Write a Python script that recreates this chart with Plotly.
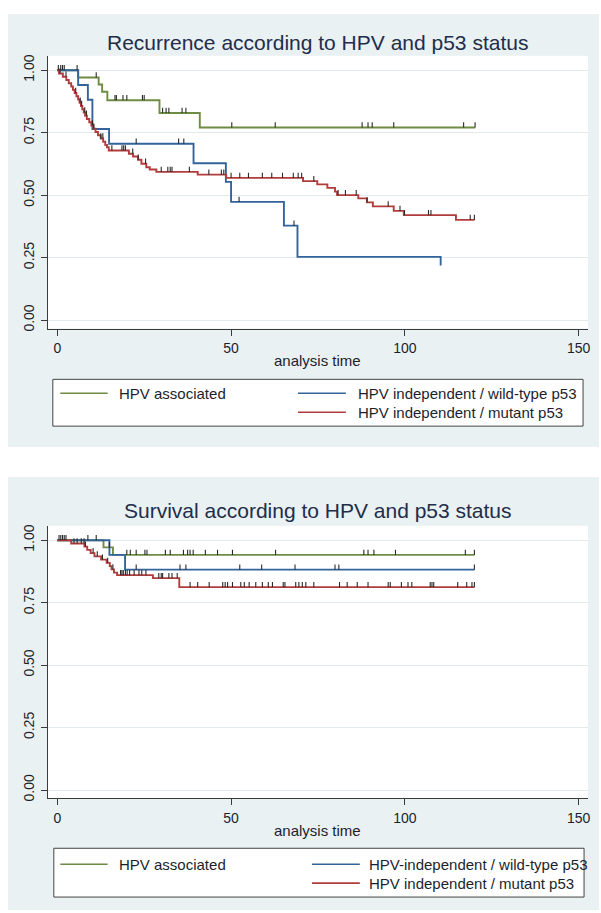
import numpy as np
import plotly.graph_objects as go

# ---------------- data ----------------
titles = ["Recurrence according to HPV and p53 status",
          "Survival according to HPV and p53 status"]
x_title = "analysis time"
x_ticks = [0, 50, 100, 150]
y_ticks = [0, 0.25, 0.5, 0.75, 1.0]
y_ticktext = ["0.00", "0.25", "0.50", "0.75", "1.00"]

legend_top = ["HPV associated", "HPV independent / wild-type p53", "HPV independent / mutant p53"]
legend_bot = ["HPV associated", "HPV-independent / wild-type p53", "HPV independent / mutant p53"]

# Recurrence (top)
rec_hpv_t = [0, 6.0, 11.9, 12.9, 14.4, 29.4, 41.0, 120.2]
rec_hpv_s = [1.0, 0.971, 0.943, 0.914, 0.880, 0.829, 0.771, 0.771]
rec_hpv_cens = [1.0, 2.0, 11.2, 16.6, 17.0, 18.9, 20.0, 24.5, 25.0, 30.3, 31.3, 32.1,
                35.9, 37.0, 50.2, 62.7, 87.7, 89.4, 90.6, 96.8, 116.9, 120.2]

rec_wt_t = [0, 6.0, 8.8, 10.1, 14.9, 39.2, 48.5, 50.0, 65.2, 69.1, 110.3]
rec_wt_s = [1.0, 0.941, 0.882, 0.765, 0.706, 0.628, 0.553, 0.473, 0.378, 0.253, 0.218]
rec_wt_cens = [1.5, 5.7, 22.7, 34.9, 36.4, 52.3, 68.1]

rec_mut_t = [0, 0.5, 1.6, 2.6, 3.3, 4.0, 4.5, 5.0, 5.5, 6.0, 6.4, 6.8, 7.2, 7.6, 8.0,
             8.5, 9.2, 9.8, 10.4, 11.0, 11.7, 12.5, 13.2, 13.8, 14.3, 14.8, 20.6, 21.8,
             23.2, 24.2, 25.6, 26.6, 28.5, 40.4, 48.6, 70.7, 74.8, 77.7, 79.9, 80.5,
             86.6, 89.1, 90.8, 96.8, 99.7, 114.7, 120.0]
rec_mut_s = [1.0, 0.987, 0.974, 0.961, 0.948, 0.935, 0.922, 0.909, 0.896, 0.883, 0.870,
             0.857, 0.844, 0.831, 0.818, 0.805, 0.792, 0.779, 0.766, 0.753, 0.740, 0.727,
             0.714, 0.701, 0.692, 0.679, 0.666, 0.655, 0.642, 0.626, 0.612, 0.603, 0.593,
             0.582, 0.569, 0.556, 0.543, 0.529, 0.514, 0.500, 0.487, 0.471, 0.455, 0.437,
             0.420, 0.401, 0.401]
rec_mut_cens = [0.3, 0.8, 2.5, 5.3, 6.6, 7.0, 7.9, 8.4, 10.1, 10.5, 12.5, 13.1, 15.7,
                18.6, 19.1, 19.6, 21.7, 23.3, 25.4, 29.9, 31.8, 32.5, 33.0, 38.0, 43.6,
                47.2, 47.9, 50.0, 52.5, 55.0, 59.0, 61.7, 64.8, 67.9, 69.3, 70.3, 73.8,
                80.8, 82.9, 86.0, 89.1, 95.2, 98.6, 99.9, 106.8, 107.5, 118.8, 120.0]

# Survival (bottom)
surv_hpv_t = [0, 13.3, 16.0, 120.0]
surv_hpv_s = [1.0, 0.971, 0.941, 0.941]
surv_hpv_cens = [1.0, 2.0, 15.0, 20.0, 21.0, 22.7, 25.2, 25.8, 31.1, 32.5, 36.3, 37.5,
                 38.2, 39.1, 42.6, 46.1, 50.4, 62.8, 88.2, 89.4, 91.1, 97.3, 117.4, 120.0]

surv_wt_t = [0, 15.0, 19.5, 120.0]
surv_wt_s = [1.0, 0.941, 0.882, 0.882]
surv_wt_cens = [8.8, 11.2, 22.7, 35.3, 37.0, 52.5, 58.8, 68.4, 79.9, 81.0, 120.0]

surv_mut_t = [0, 4.0, 7.8, 8.6, 9.6, 10.7, 12.6, 14.2, 15.1, 15.6, 16.3, 17.2, 27.5, 35.1, 120.0]
surv_mut_s = [1.0, 0.987, 0.974, 0.961, 0.948, 0.935, 0.922, 0.909, 0.896, 0.883, 0.870,
              0.860, 0.848, 0.812, 0.812]
surv_mut_cens = [0.5, 1.5, 2.5, 4.8, 5.7, 6.9, 7.7, 8.1, 10.3, 11.5, 13.0, 14.5, 16.0,
                 18.2, 18.6, 19.0, 19.6, 20.1, 20.8, 22.1, 23.5, 24.3, 25.5, 29.2, 29.9,
                 30.3, 32.1, 33.0, 34.5, 38.2, 40.4, 43.7, 47.6, 48.3, 49.0, 50.4, 52.8,
                 53.8, 55.2, 57.1, 59.0, 60.7, 61.9, 65.0, 65.5, 68.6, 69.5, 70.5, 71.5,
                 73.8, 81.2, 83.4, 86.3, 89.4, 95.2, 95.8, 99.0, 100.9, 102.0, 107.3,
                 107.8, 108.3, 115.2, 117.8, 119.3, 120.0]

# ---------------- style ----------------
W, H = 601, 913
FONT = "Liberation Sans, Arial, sans-serif"
COLORS = ["#6E8C43", "#32649B", "#B23C3C"]
PANEL = "#E9F1F3"
GRID = "#E1EAED"
AXIS = "#3a3a3a"
TEXT = "#1b1f2e"
TITLE_C = "#222d4a"
TICK_H = 0.021


def fx(px):
    return px / W


def fy(py):
    return 1 - py / H


def step_at(times, surv, c):
    t = np.asarray(times)
    s = np.asarray(surv)
    idx = np.searchsorted(t, np.asarray(c), side="right") - 1
    return s[np.clip(idx, 0, len(s) - 1)]


fig = go.Figure()

groups = [
    ("x", "y", [(rec_hpv_t, rec_hpv_s, rec_hpv_cens),
                (rec_wt_t, rec_wt_s, rec_wt_cens),
                (rec_mut_t, rec_mut_s, rec_mut_cens)]),
    ("x2", "y2", [(surv_hpv_t, surv_hpv_s, surv_hpv_cens),
                  (surv_wt_t, surv_wt_s, surv_wt_cens),
                  (surv_mut_t, surv_mut_s, surv_mut_cens)]),
]

for xa, ya, series in groups:
    for i, (t, s, c) in enumerate(series):
        fig.add_trace(go.Scatter(x=t, y=s, mode="lines", line=dict(color=COLORS[i], width=1.9, shape="hv"),
                                 xaxis=xa, yaxis=ya, showlegend=False, hoverinfo="skip"))
    for i, (t, s, c) in enumerate(series):
        cy = step_at(t, s, c)
        fig.add_trace(go.Scatter(x=c, y=cy, mode="markers",
                                 marker=dict(size=1, color="rgba(0,0,0,0)"),
                                 error_y=dict(type="data", symmetric=False,
                                              array=[TICK_H] * len(c), arrayminus=[0] * len(c),
                                              width=0, thickness=1.1, color="#2a2a2a"),
                                 xaxis=xa, yaxis=ya, showlegend=False, hoverinfo="skip"))

# geometry (pixels)
plot_x0, plot_x1 = 48, 590
plots_y = [(55, 329), (527, 801)]
panels_y = [(13, 448), (478, 913)]
title_y = [41.5, 512]
xtitle_y = [361.5, 833.5]
legend_boxes = [(53, 585, 380, 427), (54, 586, 851, 900)]
legend_rows = [(394, 413), (867, 886)]
legend_col2 = [(299, 347, 357), (313, 361, 368)]
legend_texts = [legend_top, legend_bot]

xr = [-2.72, 152.7]
yr = [-0.034, 1.058]

shapes = []
for (py0, py1) in panels_y:
    shapes.append(dict(type="rect", xref="paper", yref="paper", x0=fx(8), x1=1, y0=fy(py1), y1=fy(py0),
                       fillcolor=PANEL, line=dict(width=0), layer="below"))
for (py0, py1) in plots_y:
    shapes.append(dict(type="rect", xref="paper", yref="paper", x0=fx(plot_x0), x1=fx(plot_x1),
                       y0=fy(py1), y1=fy(py0), fillcolor="white", line=dict(width=0), layer="below"))

annotations = []
for k in range(2):
    annotations.append(dict(text=titles[k], x=fx((plot_x0 + plot_x1) / 2), y=fy(title_y[k]),
                            xref="paper", yref="paper", xanchor="center", yanchor="middle",
                            showarrow=False, font=dict(family=FONT, size=21, color=TITLE_C)))
    annotations.append(dict(text=x_title, x=fx((plot_x0 + plot_x1) / 2), y=fy(xtitle_y[k]),
                            xref="paper", yref="paper", xanchor="center", yanchor="middle",
                            showarrow=False, font=dict(family=FONT, size=15, color=TEXT)))
    bx0, bx1, by0, by1 = legend_boxes[k]
    shapes.append(dict(type="rect", xref="paper", yref="paper", x0=fx(bx0), x1=fx(bx1),
                       y0=fy(by1), y1=fy(by0), fillcolor="white",
                       line=dict(color="#444444", width=1), layer="below"))
    r1, r2 = legend_rows[k]
    c2a, c2b, c2t = legend_col2[k]
    items = [(60.5, 108, 117, r1), (c2a, c2b, c2t, r1), (c2a, c2b, c2t, r2)]
    for i, (la, lb, lt, ry) in enumerate(items):
        shapes.append(dict(type="line", xref="paper", yref="paper", x0=fx(la), x1=fx(lb),
                           y0=fy(ry), y1=fy(ry), line=dict(color=COLORS[i], width=1.6)))
        annotations.append(dict(text=legend_texts[k][i], x=fx(lt), y=fy(ry), xref="paper", yref="paper",
                                xanchor="left", yanchor="middle", showarrow=False,
                                font=dict(family=FONT, size=15, color=TEXT)))

axis_common = dict(showline=True, linecolor=AXIS, linewidth=1, ticks="outside", ticklen=6,
                   tickcolor=AXIS, tickwidth=1, zeroline=False,
                   tickfont=dict(family=FONT, size=14, color=TEXT))

layout = dict(width=W, height=H, autosize=False, margin=dict(l=0, r=0, t=0, b=0, pad=0),
              paper_bgcolor="white", plot_bgcolor="white", showlegend=False,
              shapes=shapes, annotations=annotations)

for k, (xa, ya) in enumerate([("xaxis", "yaxis"), ("xaxis2", "yaxis2")]):
    py0, py1 = plots_y[k]
    layout[xa] = dict(axis_common, domain=[fx(plot_x0), fx(plot_x1)], range=xr, tickvals=x_ticks,
                      showgrid=False, anchor="y" if k == 0 else "y2", ticklabelstandoff=1)
    layout[ya] = dict(axis_common, domain=[fy(py1), fy(py0)], range=yr, tickvals=y_ticks,
                      ticktext=y_ticktext, tickangle=-90, showgrid=True, gridcolor=GRID, gridwidth=1,
                      anchor="x" if k == 0 else "x2", ticklabelstandoff=1)

fig.update_layout(**layout)
fig.write_html("out.html", config={"displayModeBar": False},
               post_script="document.body.style.margin='0';document.body.style.overflow='hidden';")
